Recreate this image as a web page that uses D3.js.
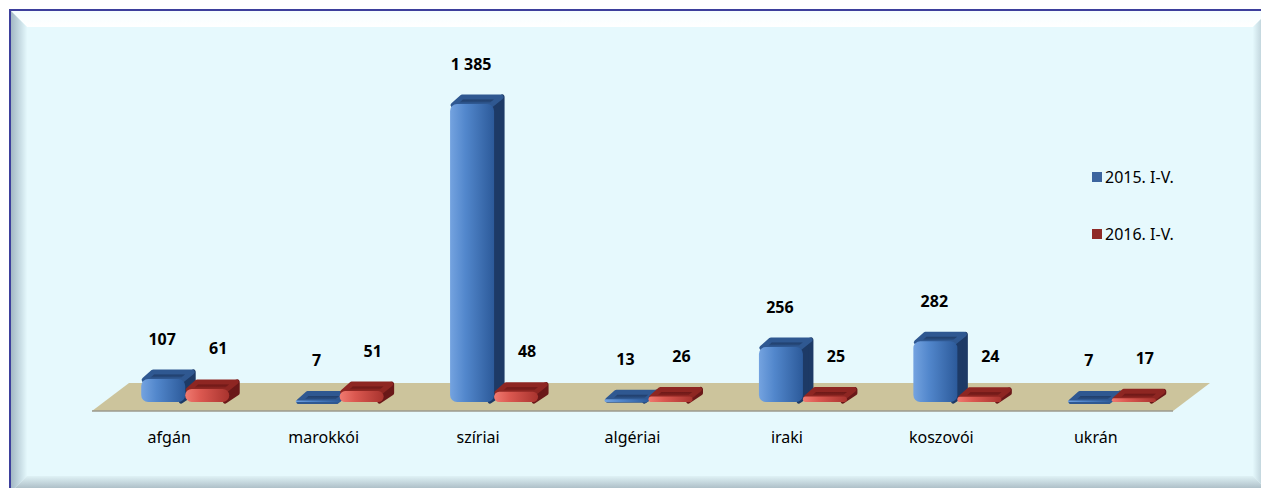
<!DOCTYPE html>
<html>
<head>
<meta charset="utf-8">
<script src="https://cdn.jsdelivr.net/npm/d3@7"></script>
<style>
  html, body { margin: 0; padding: 0; background: #ffffff; }
  svg { display: block; }
  text { font-family: "Noto Sans", "Open Sans", sans-serif; fill: #000; }
</style>
</head>
<body>
<div id="chart"></div>
<script>
// Asylum applications by nationality, January–May
const categories = ["afgán", "marokkói", "szíriai", "algériai", "iraki", "koszovói", "ukrán"];
const values2015 = [107, 7, 1385, 13, 256, 282, 7];
const values2016 = [61, 51, 48, 26, 25, 24, 17];
const seriesNames = ["2015. I-V.", "2016. I-V."];

const W = 1261, H = 488;
const svg = d3.select("#chart").append("svg").attr("width", W).attr("height", H);
const defs = svg.append("defs");

const hu = d3.formatLocale({ decimal: ",", thousands: " ", grouping: [3], currency: ["", ""] });
const fmt = hu.format(",d");

// ---- gradients ----
function linGrad(id, stops, x2 = "100%", y2 = "0%") {
  const g = defs.append("linearGradient").attr("id", id)
    .attr("x1", "0%").attr("y1", "0%").attr("x2", x2).attr("y2", y2);
  stops.forEach(([o, c]) => g.append("stop").attr("offset", o).attr("stop-color", c));
}
linGrad("bevelLeft", [["0%", "#9fb4c1"], ["100%", "#e4f8fc"]]);
linGrad("bevelRight", [["0%", "#e4f8fc"], ["100%", "#9fb2bd"]]);
linGrad("bevelTop", [["0%", "#f4fdff"], ["100%", "#ffffff"]], "0%", "100%");
linGrad("bevelBottom", [["0%", "#dff2f6"], ["100%", "#9aabb5"]], "0%", "100%");

const palette = [
  { front: [["0%", "#74a3e0"], ["35%", "#5287cc"], ["100%", "#2c5a9a"]],
    top: [["0%", "#1a335a"], ["100%", "#2f5891"]], side: "#1d3a66", legend: "#3c659f" },
  { front: [["0%", "#f07a70"], ["35%", "#db5850"], ["100%", "#a8332e"]],
    top: [["0%", "#5e1212"], ["100%", "#8e2622"]], side: "#6a1818", legend: "#8e2a27" }
];
palette.forEach((p, i) => {
  linGrad("front" + i, p.front);
  linGrad("top" + i, p.top, "0%", "100%");
});

// ---- frame ----
const fx = 10, fy = 10, fw = 1260, fh = 483, bev = 17;
svg.append("rect").attr("x", fx).attr("y", fy).attr("width", fw).attr("height", fh).attr("fill", "#e6f9fd");
const R = fx + fw, B = fy + fh;
svg.append("path").attr("fill", "url(#bevelTop)")
  .attr("d", `M${fx},${fy}L${R},${fy}L${R - bev},${fy + bev}L${fx + bev},${fy + bev}Z`);
svg.append("path").attr("fill", "url(#bevelLeft)")
  .attr("d", `M${fx},${fy}L${fx + bev},${fy + bev}L${fx + bev},${B - bev}L${fx},${B}Z`);
svg.append("path").attr("fill", "url(#bevelRight)")
  .attr("d", `M${R},${fy}L${R},${B}L${R - bev},${B - bev}L${R - bev},${fy + bev}Z`);
svg.append("path").attr("fill", "url(#bevelBottom)")
  .attr("d", `M${fx},${B}L${fx + bev},${B - bev}L${R - bev},${B - bev}L${R},${B}Z`);
svg.append("path").attr("fill", "none").attr("stroke", "#3d3f9c").attr("stroke-width", 2)
  .attr("d", `M${fx},${B + 5}L${fx},${fy}L${R + 5},${fy}`);

// ---- scales ----
const x = d3.scaleBand().domain(categories).range([92, 1173]).paddingInner(0).paddingOuter(0);
const floorFront = 411, floorDX = 37, floorDY = 28;
const baseY = 402;                       // front base of the bars
const y = d3.scaleLinear().domain([0, 1385]).range([baseY, 104]);
const barW = 44, depthX = 10, depthY = 9;

// ---- floor ----
const [x0, x1] = x.range();
svg.append("path")
  .attr("d", `M${x0},${floorFront}L${x1},${floorFront}L${x1 + floorDX},${floorFront - floorDY}L${x0 + floorDX},${floorFront - floorDY}Z`)
  .attr("fill", "#ccc49c");
svg.append("line").attr("x1", x0).attr("x2", x1).attr("y1", floorFront).attr("y2", floorFront)
  .attr("stroke", "#9b9a8e").attr("stroke-width", 1.5);

// ---- bars ----
const cx = c => x(c) + x.bandwidth() / 2;
const series = [values2015, values2016];
const gBars = svg.append("g");

series.forEach((vals, si) => {
  const p = palette[si];
  categories.forEach((c, i) => {
    const v = vals[i];
    const left = cx(c) - 28 + si * barW;
    const right = left + barW;
    const top = y(v);
    const h = baseY - top;
    const g = gBars.append("g");
    // side face
    g.append("path")
      .attr("d", `M${right - 4},${top + 1}L${right + depthX - 2},${top - depthY + 2}L${right + depthX - 2},${baseY - depthY}L${right - 4},${baseY - 1}Z`)
      .attr("fill", p.side).attr("stroke", p.side).attr("stroke-width", 5).attr("stroke-linejoin", "round");
    // top face
    g.append("path")
      .attr("d", `M${left + 3},${top + 1}L${right - 3},${top + 1}L${right + depthX - 3},${top - depthY + 2}L${left + depthX + 2},${top - depthY + 2}Z`)
      .attr("fill", `url(#top${si})`).attr("stroke", p.top[1][1]).attr("stroke-width", 5).attr("stroke-linejoin", "round");
    // front face
    const r = Math.min(7, h / 2);
    g.append("rect")
      .attr("x", left).attr("y", top).attr("width", barW).attr("height", Math.max(h, 1))
      .attr("rx", r).attr("ry", r)
      .attr("fill", `url(#front${si})`);
  });
});

// ---- value labels ----
const gVal = svg.append("g").attr("font-size", 16).attr("font-weight", "bold").attr("text-anchor", "middle");
series.forEach((vals, si) => {
  categories.forEach((c, i) => {
    const v = vals[i];
    const centre = cx(c) - 28 + si * barW + barW / 2 + depthX / 2;
    gVal.append("text")
      .attr("x", centre + (si === 0 ? -6 : 6))
      .attr("y", y(v) - depthY - 31)
      .attr("dy", "0.35em")
      .text(fmt(v));
  });
});

// ---- category axis labels ----
svg.append("g").attr("font-size", 16).attr("text-anchor", "middle")
  .selectAll("text").data(categories).join("text")
  .attr("x", d => cx(d)).attr("y", 437).attr("dy", "0.35em")
  .text(d => d);

// ---- legend ----
const legend = svg.append("g");
seriesNames.forEach((name, i) => {
  const ly = 177 + i * 57;
  legend.append("rect").attr("x", 1092).attr("y", ly - 5).attr("width", 10).attr("height", 10)
    .attr("fill", palette[i].legend);
  legend.append("text").attr("x", 1105).attr("y", ly).attr("dy", "0.35em")
    .attr("font-size", 16).text(name);
});
</script>
</body>
</html>
